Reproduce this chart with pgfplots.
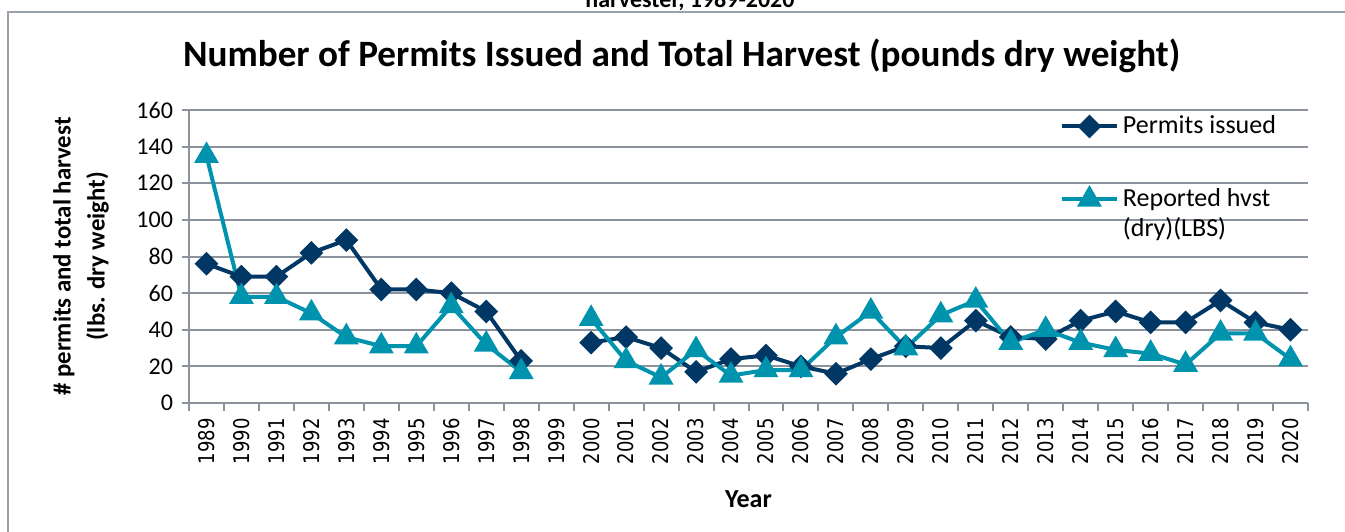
\documentclass[border=0pt]{standalone}
\usepackage{pgfplots}
\pgfplotsset{compat=1.18}
\usepackage{pgfplotstable}
\usepackage{graphicx}
\usepackage{fontspec}
\setmainfont{Carlito}
\newfontfamily\dejavu{DejaVu Sans}
\definecolor{navy}{HTML}{003764}
\definecolor{tealc}{HTML}{0093AD}
\definecolor{gridgray}{HTML}{8C939D}
\definecolor{framegray}{HTML}{9AA1AA}

% year index: 1989 -> 0 ... 2020 -> 31, 1999 has no data
\pgfplotstableread{
x  permits harvest
0  76  135
1  69  58
2  69  58
3  82  49
4  89  36
5  62  31
6  62  31
7  60  53
8  50  32
9  23  17
10 nan nan
11 33  46
12 36  23
13 30  14
14 17  29
15 24  15
16 26  18
17 20  18
18 16  36
19 24  50
20 31  30
21 30  48
22 45  56
23 36  33
24 35  40
25 45  33
26 50  29
27 44  27
28 44  21
29 56  38
30 44  38
31 40  24
}\data

\begin{document}
\begin{tikzpicture}
\draw[framegray, line width=0.8pt] (4pt,-6pt) rectangle (720pt,-320pt);
\node[anchor=base, font=\bfseries\fontsize{12}{14}\selectfont] at (345pt,-3.5pt) {harvester, 1989-2020};
\node[anchor=base, font=\bfseries\fontsize{18.6}{22}\selectfont] at (340.8pt,-33pt)
  {Number of Permits Issued and Total Harvest (pounds dry weight)};
\begin{axis}[
    at={(94.5pt,-201.5pt)}, anchor=south west,
    scale only axis,
    width=559.5pt, height=146.5pt,
    xmin=-0.5, xmax=31.5,
    ymin=0, ymax=160,
    ytick={0,20,...,160},
    xtick={0,...,31},
    xticklabel={\mbox{\dejavu\fontsize{9}{10}\selectfont\pgfmathparse{int(\tick+1989)}\scalebox{1}[1.2]{\pgfmathresult}}},
    minor xtick={-0.5,0.5,...,31.5},
    major x tick style={draw=none},
    minor tick length=4pt,
    major tick length=3.5pt,
    tick align=outside,
    xtick pos=bottom, ytick pos=left,
    axis x line*=bottom, axis y line*=left,
    axis line style={gridgray, line width=1pt},
    every tick/.style={gridgray, line width=1pt},
    ymajorgrids,
    grid style={gridgray, line width=1pt},
    /pgf/number format/assume math mode=true,
    x tick label style={rotate=90, anchor=east, inner sep=0pt, xshift=-4pt},
    y tick label style={font=\fontsize{12}{14}\selectfont, xshift=-1pt},
    xlabel={\textbf{Year}},
    xlabel style={font=\fontsize{13}{15}\selectfont, at={(axis description cs:0.5,0)}, anchor=base, yshift=-52pt},
    ylabel={\textbf{\# permits and total harvest}\\\textbf{(lbs. dry weight)}},
    ylabel style={font=\fontsize{12.4}{17}\selectfont, align=center, yshift=7pt},
    unbounded coords=jump,
    legend style={at={(0.778,0.995)}, anchor=north west, draw=none, fill=none,
      font=\fontsize{13}{14.5}\selectfont, row sep=22pt, inner sep=0pt,
      cells={anchor=west}},
    legend image code/.code={\draw[mark repeat=2, mark phase=2] plot coordinates {(0pt,0pt) (13.75pt,0pt) (27.5pt,0pt)};},
]
\addplot[navy, line width=2pt, mark=square*, mark size=3.2pt, mark options={rotate=45, solid}]
  table[x=x, y=permits] {\data};
\addlegendentry{Permits issued}
\addplot[tealc, line width=2pt, mark=triangle*, mark size=5.2pt, mark options={solid}]
  table[x=x, y=harvest] {\data};
\addlegendentry{\parbox[t]{80pt}{\baselineskip=15pt Reported hvst\\(dry)(LBS)}}
\end{axis}
\pgfresetboundingbox
\path[use as bounding box] (0,0) rectangle (672.5pt,-265.5pt);
\end{tikzpicture}
\end{document}
